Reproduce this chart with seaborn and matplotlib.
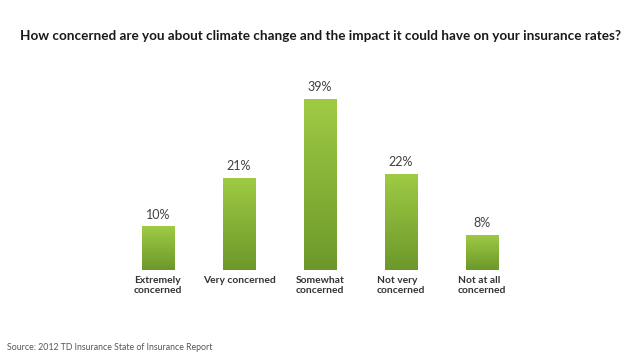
import numpy as np
import pandas as pd
import seaborn as sns
import matplotlib.pyplot as plt
from matplotlib.colors import LinearSegmentedColormap

#==============================================================================
# data
categories = ["Extremely\nconcerned", "Very concerned", "Somewhat\nconcerned",
              "Not very\nconcerned", "Not at all\nconcerned"]
shares = [10, 21, 39, 22, 8]
value_labels = ["10%", "21%", "39%", "22%", "8%"]

title = "How concerned are you about climate change and the impact it could have on your insurance rates?"
source = "Source: 2012 TD Insurance State of Insurance Report"

#==============================================================================
sns.set_theme(style="white")
plt.rcParams['font.family'] = ['Lato', 'DejaVu Sans']

df = pd.DataFrame({"answer": categories, "share": shares})

fig = plt.figure(figsize=(6.4, 3.55), dpi=100)
ax = fig.add_axes([0.1836, 0.2394, 0.633, 0.494])

sns.barplot(data=df, x="answer", y="share", color="#8ab83a", width=0.4,
            saturation=1, ax=ax)

# vertical green gradient inside every bar
green = LinearSegmentedColormap.from_list("grn", ["#6c982b", "#9fcb44"])
grad = np.linspace(0, 1, 256).reshape(-1, 1)
for bar in ax.patches:
    x0, y0 = bar.get_x(), bar.get_y()
    w, h = bar.get_width(), bar.get_height()
    im = ax.imshow(grad, cmap=green, origin="lower", aspect="auto",
                   extent=(x0, x0 + w, y0, y0 + h), zorder=bar.get_zorder() + 0.1)
    im.set_clip_path(bar)
    bar.set_edgecolor("none")

ax.set_xlim(-0.5, len(categories) - 0.5)
ax.set_ylim(0, 40)

for i, (v, lab) in enumerate(zip(shares, value_labels)):
    ax.annotate(lab, (i, v), xytext=(0, 4), textcoords="offset points",
                ha="center", va="bottom", fontsize=9, color="#404040")

ax.set_xticks(range(len(categories)))
ax.set_xticklabels(categories, fontsize=7.4, fontweight="bold", color="#333333",
                   multialignment="left", linespacing=1.15)
ax.tick_params(axis="x", length=0, pad=4)
ax.set_yticks([])
ax.set_xlabel("")
ax.set_ylabel("")
sns.despine(ax=ax, left=True, bottom=True, top=True, right=True)

fig.text(0.5, 0.90, title, ha="center", va="center", fontsize=9.75,
         fontweight="bold", color="#1a1a1a")
fig.text(0.011, 0.022, source, ha="left", va="center", fontsize=6.3,
         color="#555555")

fig.savefig("out.png", dpi=100, facecolor="white")
